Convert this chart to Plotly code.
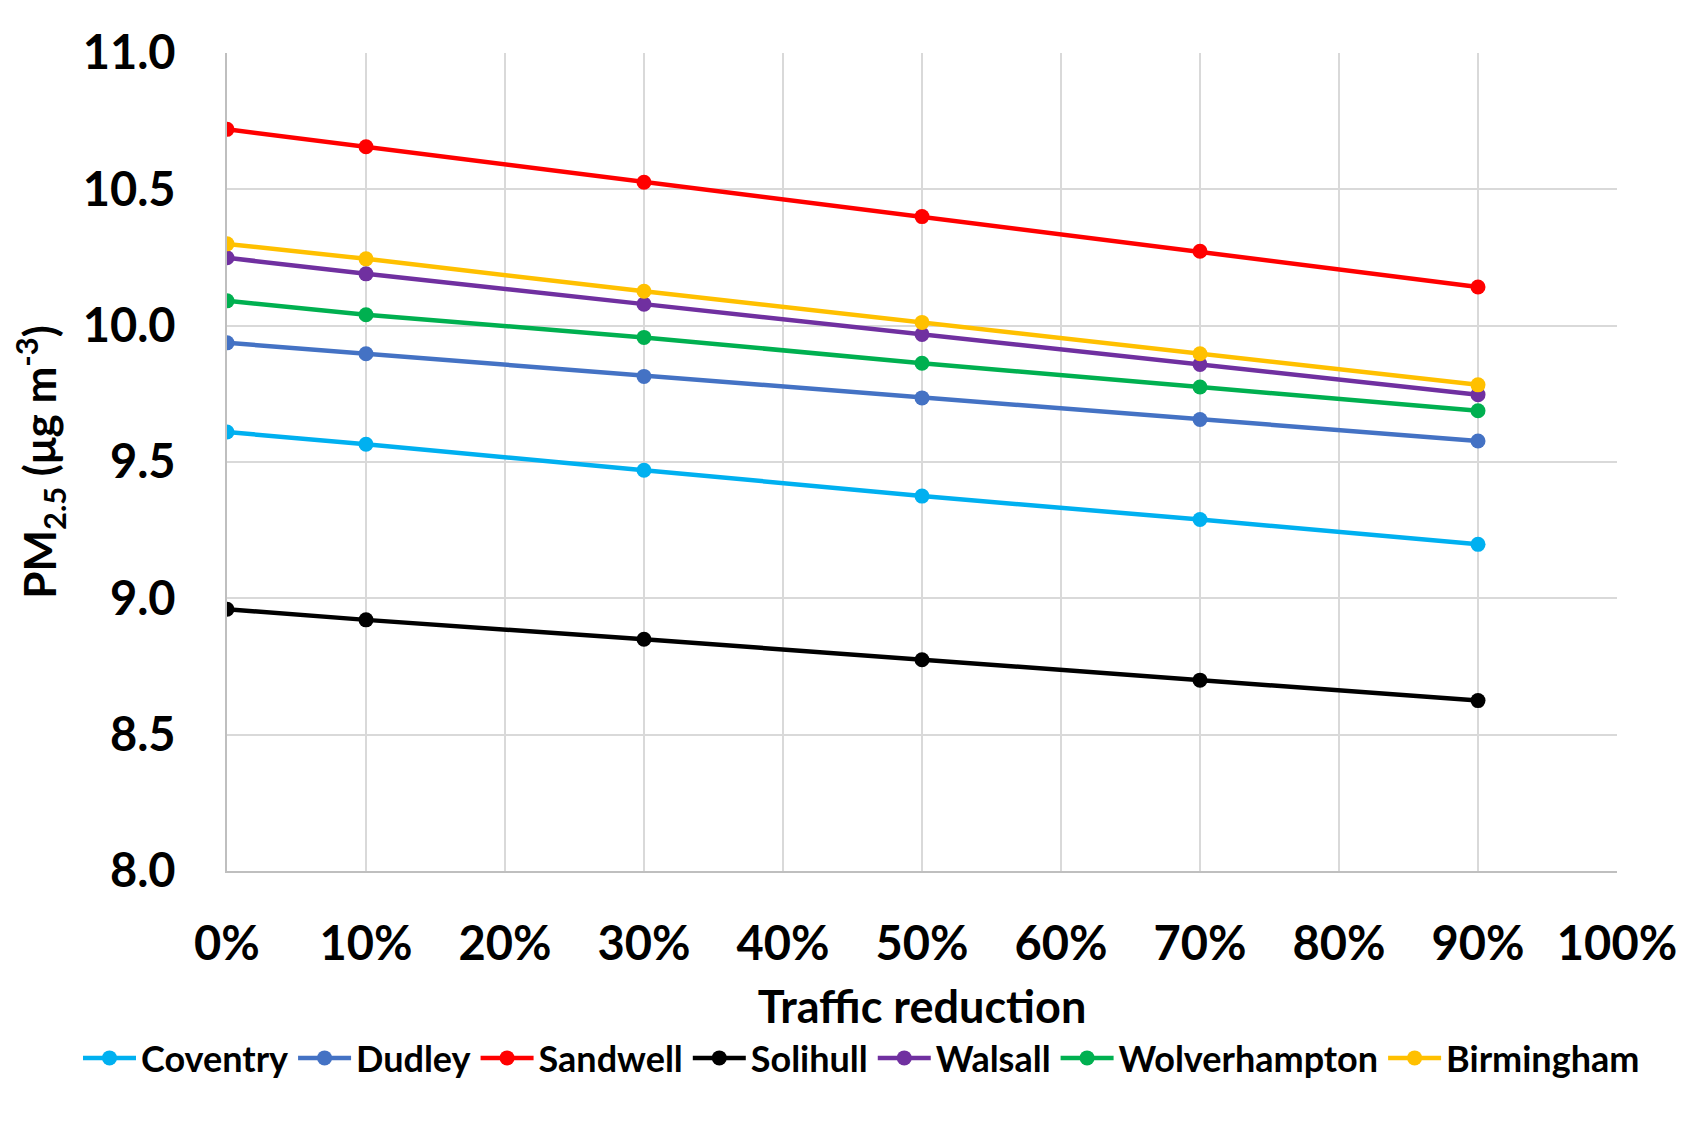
import plotly.graph_objects as go

reduction = [0, 10, 30, 50, 70, 90]
series_names = ["Coventry", "Dudley", "Sandwell", "Solihull", "Walsall", "Wolverhampton", "Birmingham"]
coventry = [9.61, 9.565, 9.47, 9.375, 9.289, 9.198]
dudley = [9.937, 9.897, 9.814, 9.735, 9.656, 9.577]
sandwell = [10.72, 10.656, 10.526, 10.40, 10.273, 10.142]
solihull = [8.96, 8.921, 8.85, 8.775, 8.70, 8.625]
walsall = [10.249, 10.19, 10.079, 9.968, 9.858, 9.747]
wolverhampton = [10.091, 10.04, 9.957, 9.862, 9.775, 9.688]
birmingham = [10.30, 10.245, 10.126, 10.012, 9.897, 9.783]
colors = ["#00B0F0", "#4472C4", "#FF0000", "#000000", "#7030A0", "#00B050", "#FFC000"]
values = [coventry, dudley, sandwell, solihull, walsall, wolverhampton, birmingham]

FONT = "Lato"

fig = go.Figure()
for name, vals, col in zip(series_names, values, colors):
    fig.add_trace(go.Scatter(
        x=reduction, y=vals, name=name, mode="lines+markers",
        line=dict(color=col, width=4.5),
        marker=dict(color=col, size=15),
    ))

OFF = 8  # browser body margin
W, H = 1691, 1124
L, R, T, B = 227 - OFF, 74 + OFF, 53 - OFF, 253 + OFF
pw, ph = W - L - R, H - T - B

def px(xpage):
    return (xpage - OFF - L) / pw

def py(ypage):
    return (H - B - (ypage - OFF)) / ph

fig.update_layout(
    width=W, height=H,
    margin=dict(l=L, r=R, t=T, b=B, autoexpand=False),
    paper_bgcolor="white", plot_bgcolor="white",
    font=dict(family=FONT, color="black"),
    showlegend=True,
    legend=dict(
        orientation="h", x=px(78), xanchor="left", y=py(1058), yanchor="middle",
        font=dict(family=FONT, size=36, color="black", weight="bold"),
        itemwidth=53, tracegroupgap=0, traceorder="normal",
        bgcolor="rgba(0,0,0,0)",
    ),
    xaxis=dict(
        range=[0, 100], dtick=10, tick0=0, ticksuffix="%",
        showgrid=True, gridcolor="#D9D9D9", gridwidth=2,
        showline=True, linecolor="#BFBFBF", linewidth=2,
        zeroline=False, ticks="",
        tickfont=dict(family=FONT, size=47, color="black", weight="bold"),
        ticklabelstandoff=31,
        title=dict(text="Traffic reduction", standoff=22,
                   font=dict(family=FONT, size=45, color="black", weight="bold")),
    ),
    yaxis=dict(
        range=[8.0, 11.0], dtick=0.5, tick0=8.0, tickformat=".1f",
        showgrid=True, gridcolor="#D9D9D9", gridwidth=2,
        showline=True, linecolor="#BFBFBF", linewidth=2,
        zeroline=False, ticks="",
        tickfont=dict(family=FONT, size=47, color="black", weight="bold"),
        ticklabelstandoff=40,
        title=dict(text="PM<sub>2.5</sub> (μg m<sup>-3</sup>)", standoff=26,
                   font=dict(family=FONT, size=44, color="black", weight="bold")),
    ),
    shapes=[dict(type="rect", xref="paper", yref="paper",
                 x0=px(5), x1=px(1720), y0=py(1200), y1=py(5),
                 line=dict(color="#D9D9D9", width=2), layer="below")],
)

fig.write_html("out.html")
